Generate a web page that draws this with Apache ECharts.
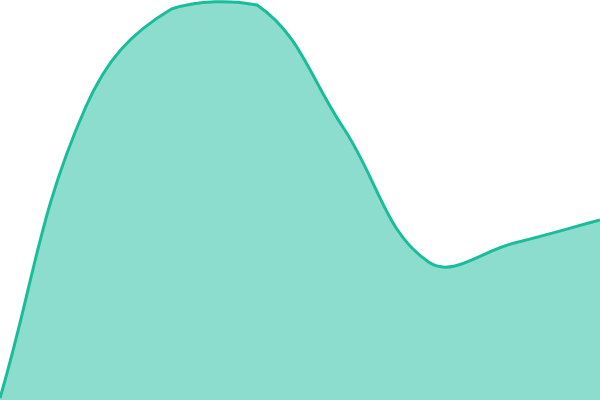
<!DOCTYPE html>
<html><head><meta charset="utf-8">
<script src="https://cdn.jsdelivr.net/npm/echarts@6/dist/echarts.min.js"></script>
<style>html,body{margin:0;padding:0;background:#fff}#c{width:600px;height:400px}</style>
</head><body><div id="c"></div>
<script>
const categories = ['1','2','3','4','5','6','7','8'];
const values = [2, 293, 391, 395, 273, 138, 157, 180];
const tension = 0.4;

function renderItem(params, api) {
  if (params.dataIndex !== 0) return null;
  const cs = params.coordSys;
  const pts = values.map((v, i) => api.coord([i, v]));
  const base = api.coord([0, 0])[1];
  const n = pts.length;
  const clampX = x => Math.max(cs.x, Math.min(cs.x + cs.width, x));
  const clampY = y => Math.max(cs.y, Math.min(cs.y + cs.height, y));
  const cps = [];
  for (let i = 0; i < n; i++) {
    const prev = pts[Math.max(i - 1, 0)], cur = pts[i], next = pts[Math.min(i + 1, n - 1)];
    const d01 = Math.hypot(cur[0] - prev[0], cur[1] - prev[1]);
    const d12 = Math.hypot(next[0] - cur[0], next[1] - cur[1]);
    let s01 = d01 / (d01 + d12), s12 = d12 / (d01 + d12);
    if (!isFinite(s01)) s01 = 0;
    if (!isFinite(s12)) s12 = 0;
    const fa = tension * s01, fb = tension * s12;
    const dx = next[0] - prev[0], dy = next[1] - prev[1];
    cps.push({
      c1: [clampX(cur[0] - fa * dx), clampY(cur[1] - fa * dy)],
      c2: [clampX(cur[0] + fb * dx), clampY(cur[1] + fb * dy)]
    });
  }
  let d = 'M' + pts[0][0] + ' ' + pts[0][1];
  for (let i = 1; i < n; i++) {
    d += ' C' + cps[i - 1].c2[0] + ' ' + cps[i - 1].c2[1] + ' ' +
         cps[i].c1[0] + ' ' + cps[i].c1[1] + ' ' + pts[i][0] + ' ' + pts[i][1];
  }
  const area = d + ' L' + pts[n - 1][0] + ' ' + base + ' L' + pts[0][0] + ' ' + base + ' Z';
  return {
    type: 'group',
    children: [
      {type: 'path', shape: {pathData: area}, style: {fill: 'rgba(26,188,156,0.5)', stroke: 'none'}},
      {type: 'path', shape: {pathData: d}, style: {fill: 'none', stroke: '#1abc9c', lineWidth: 3}}
    ]
  };
}

const chart = echarts.init(document.getElementById('c'));
chart.setOption({
  animation: false,
  grid: {left: 0, right: 0, top: 0, bottom: 0},
  xAxis: {type: 'category', data: categories, boundaryGap: false, show: false},
  yAxis: {type: 'value', min: 0, max: 400, show: false},
  series: [{
    type: 'custom',
    renderItem: renderItem,
    data: values.map((v, i) => [i, v]),
    encode: {x: 0, y: 1}
  }]
});
</script></body></html>
